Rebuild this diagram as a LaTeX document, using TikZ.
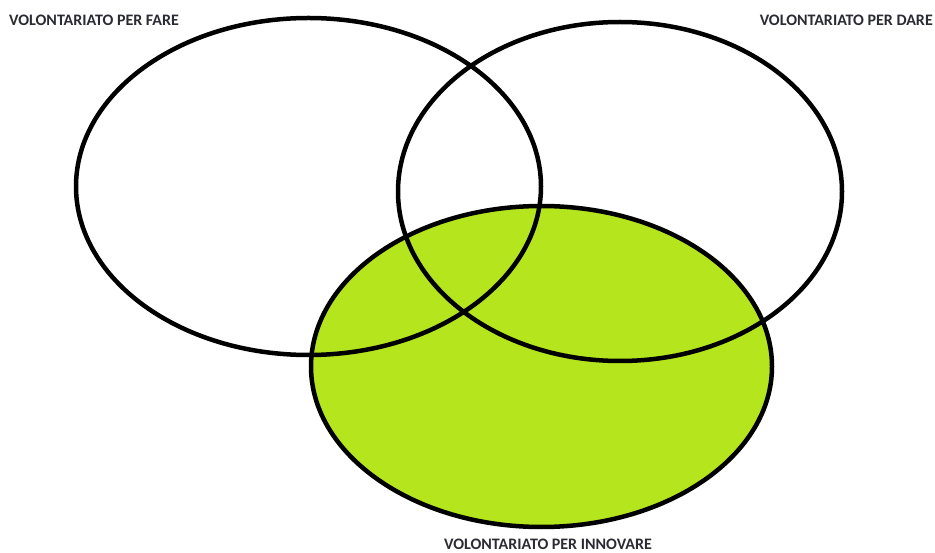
\documentclass[tikz,border=0pt]{standalone}
\usepackage{fontspec}
\setmainfont{Carlito}
\usetikzlibrary{shapes.geometric}
\definecolor{lime}{HTML}{B5E61D}
\definecolor{txt}{HTML}{2B2B33}
\begin{document}
\begin{tikzpicture}[x=1pt,y=1pt,
  ring/.style={draw=black,line width=4.5pt,ellipse,inner sep=0pt},
  lab/.style={font=\fontsize{16}{17}\selectfont\bfseries,text=txt,inner sep=0pt}]
\useasboundingbox (0,0) rectangle (935,552);
% green ellipse (innovare)
\node[ring,fill=lime,minimum width=461pt,minimum height=321pt] (innovare) at (541.5,185.5) {};
% left and right ellipses
\node[ring,minimum width=465pt,minimum height=337pt] (fare) at (308.5,365.5) {};
\node[ring,minimum width=444pt,minimum height=339pt] (dare) at (620,360.5) {};
\node[lab,anchor=west] (lfare) at (9,532) {VOLONTARIATO PER FARE};
\node[lab,anchor=east] (ldare) at (933,532) {VOLONTARIATO PER DARE};
\node[lab] (linn) at (548,7.5) {VOLONTARIATO PER INNOVARE};
\end{tikzpicture}
\end{document}
